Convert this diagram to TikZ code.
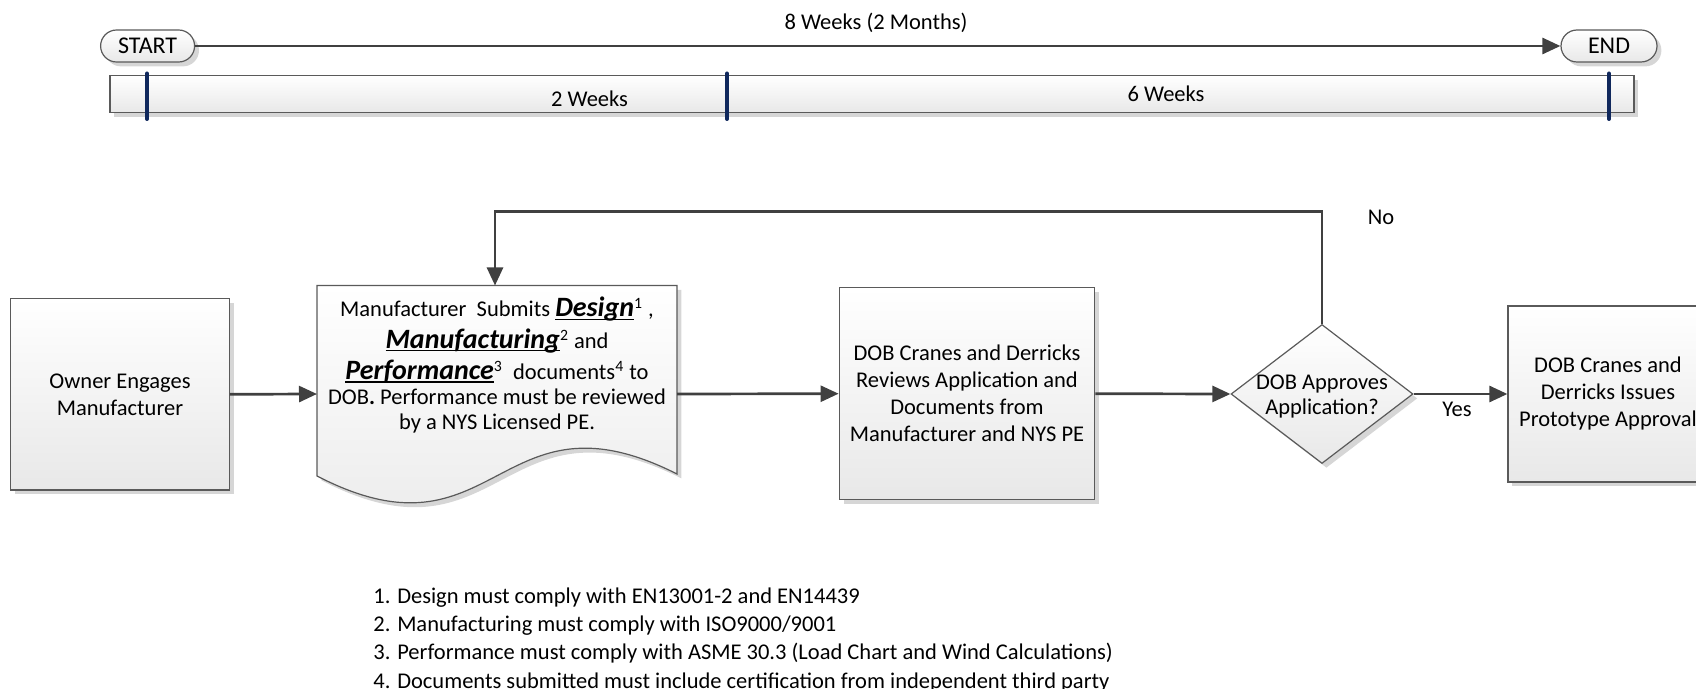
\documentclass[tikz,border=0pt]{standalone}
\usepackage{fontspec}
\setmainfont{Carlito}
\usetikzlibrary{arrows.meta,shapes.geometric,shapes.misc,shadows,calc}
\definecolor{lineg}{HTML}{404040}
\definecolor{boxline}{HTML}{5A5A5A}
\definecolor{navy}{HTML}{10285C}
\newsavebox{\bwbox}
\newcommand{\bigword}[1]{{\fontsize{14pt}{14pt}\selectfont\sbox{\bwbox}{\textbf{\textit{#1}}}\rlap{\rule[-1.6pt]{\wd\bwbox}{0.7pt}}\usebox{\bwbox}}}
\begin{document}
\begin{tikzpicture}[x=0.5pt,y=-0.5pt,
  every node/.style={font=\fontsize{11.25pt}{13.5pt}\selectfont, text=black},
  shad/.style={drop shadow={shadow xshift=2.2pt, shadow yshift=-2.2pt, fill=black!16, opacity=1}},
  boxst/.style={draw=boxline, line width=0.6pt, top color=white, bottom color=black!9, shad,
     align=center, inner sep=0pt},
  termst/.style={rounded rectangle, draw=boxline, line width=0.6pt, top color=white, bottom color=black!9, shad, inner sep=0pt},
  arr/.style={draw=lineg, line width=1.35pt, -{Triangle[length=9pt,width=8pt]}},
  tick/.style={draw=navy, line width=2pt, line cap=round},
  lbl/.style={inner sep=0pt}
]
\useasboundingbox (0,0) rectangle (1696,689);

% ---- timeline ----
\node[termst, minimum width=47pt, minimum height=16pt, font=\fontsize{12pt}{13.5pt}\selectfont] (start) at (147.6,46) {START};
\node[termst, minimum width=48pt, minimum height=16pt, font=\fontsize{12pt}{13.5pt}\selectfont] (end) at (1609,46) {END};
\draw[arr] (start.east) -- (end.west);
\node[lbl] (total) at (876,23) {8 Weeks (2 Months)};
\node[boxst, minimum width=762pt, minimum height=18.4pt] (bar) at (872,94.1) {};
\node[lbl] (w2) at (589.5,98.4) {2 Weeks};
\node[lbl] (w6) at (1166,94) {6 Weeks};
\coordinate (t1a) at (147,73.5); \coordinate (t1b) at (147,119);
\coordinate (t2a) at (727,73.5); \coordinate (t2b) at (727,119);
\coordinate (t3a) at (1609,73.5); \coordinate (t3b) at (1609,119);
\draw[tick] (t1a) -- (t1b);
\draw[tick] (t2a) -- (t2b);
\draw[tick] (t3a) -- (t3b);

% ---- flow ----
\node[boxst, minimum width=109.25pt, minimum height=95.75pt] (owner) at (120,394.3)
  {Owner Engages\\Manufacturer};

% document shape
\path[draw=boxline, line width=0.6pt, top color=white, bottom color=black!9, shad]
  (317,285.5) -- (677,285.5) -- (677,474)
  .. controls (497,383) and (497,569) .. (317,476) -- cycle;
\node[lbl, align=center, font=\fontsize{11.25pt}{12.4pt}\selectfont] (doc) at (497,365)
  {Manufacturer\ \ Submits \bigword{Design}\textsuperscript{1} ,\\[3.3pt]
   \bigword{Manufacturing}\textsuperscript{2} and\\[3.3pt]
   \bigword{Performance}\textsuperscript{3}\ \ documents\textsuperscript{4} to\\
   DOB\textbf{.} Performance must be reviewed\\
   by a NYS Licensed PE.};
\coordinate (docW) at (317,394);
\coordinate (docE) at (677,394);
\coordinate (docN) at (495,285.5);

\node[boxst, minimum width=127.8pt, minimum height=106pt] (review) at (967,393.7)
  {DOB Cranes and Derricks\\Reviews Application and\\Documents from\\Manufacturer and NYS PE};

\node[diamond, draw=boxline, line width=0.6pt, top color=white, bottom color=black!9, shad,
  minimum width=91pt, minimum height=69.5pt, inner sep=0pt] (dec) at (1322,394) {};
\node[lbl, align=center, font=\fontsize{11.25pt}{12.5pt}\selectfont] (dectext) at (1322,397)
  {DOB Approves\\Application?};

\node[boxst, minimum width=100pt, minimum height=88pt] (final) at (1608,394)
  {DOB Cranes and\\Derricks Issues\\Prototype Approval};

\draw[arr] (owner.east) -- (docW);
\draw[arr] (docE) -- (review.west);
\draw[arr] (review.east) -- (dec.west);
\draw[arr] (dec.east) -- (final.west);
\draw[arr] (dec.north) -- ++(0,-112.5) -| (docN);

\node[lbl] (no) at (1381,217) {No};
\node[lbl] (yes) at (1457,409) {Yes};

% ---- notes ----
\node[lbl, anchor=base west, align=left, font=\fontsize{11.25pt}{14.1pt}\selectfont] (notes) at (373,688)
  {1. Design must comply with EN13001-2 and EN14439\\
   2. Manufacturing must comply with ISO9000/9001\\
   3. Performance must comply with ASME 30.3 (Load Chart and Wind Calculations)\\
   4. Documents submitted must include certification from independent third party};
\end{tikzpicture}
\end{document}
